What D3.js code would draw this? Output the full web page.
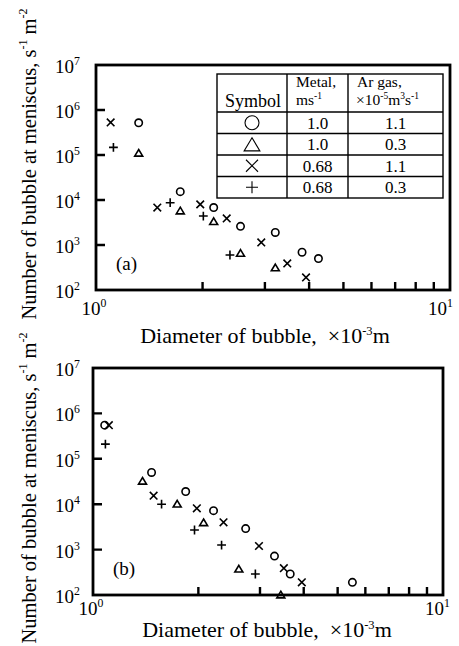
<!DOCTYPE html>
<html>
<head>
<meta charset="utf-8">
<script src="https://cdn.jsdelivr.net/npm/d3@7"></script>
<style>
body{margin:0;background:#fff}
text{font-family:"Liberation Serif","Times New Roman",serif;fill:#000}
</style>
</head>
<body>
<div id="root"></div>
<script>
//DATA, PANEL (a)  [diameter x10^-3 m, number s^-1 m^-2]
const aCircle = [[1.32,5.2e5],[1.73,1.53e4],[2.15,6.8e3],[2.56,2.6e3],[3.21,1.9e3],[3.82,690],[4.25,500]];
const aTriangle = [[1.32,1.09e5],[1.73,5.7e3],[2.15,3.3e3],[2.56,650],[3.21,310]];
const aCross = [[1.10,5.3e5],[1.49,6.8e3],[1.97,8.0e3],[2.34,3.9e3],[2.93,1.14e3],[3.47,390],[3.92,190]];
const aPlus = [[1.12,1.48e5],[1.62,8.7e3],[2.01,4.4e3],[2.39,600]];

//DATA, PANEL (b)
const bCircle = [[1.08,5.5e5],[1.47,5.0e4],[1.84,1.9e4],[2.21,7.2e3],[2.73,2.9e3],[3.30,720],[3.66,290],[5.51,190]];
const bTriangle = [[1.385,3.2e4],[1.74,1.0e4],[2.07,3.9e3],[2.61,370],[3.44,100]];
const bCross = [[1.11,5.5e5],[1.49,1.54e4],[1.98,8.1e3],[2.36,4.0e3],[2.98,1.2e3],[3.51,390],[3.95,190]];
const bPlus = [[1.085,2.1e5],[1.57,1.0e4],[1.95,2.7e3],[2.33,1.26e3],[2.91,290]];

//TICKS
const xMinorTicks = [2,3,4,5,6,7,8,9];
const yInnerTicks = [1e3,1e4,1e5,1e6];
const yLabelTicks = [1e2,1e3,1e4,1e5,1e6,1e7];

//LEGEND TABLE
const legendSymbols = ["circle","triangle","cross","plus"];
const legendMetal = ["1.0","1.0","0.68","0.68"];
const legendGas = ["1.1","0.3","1.1","0.3"];

const width = 459, height = 646;

let svg = d3.select('#root')
.append('svg')
.attr('width', width)
.attr('height', height);

//MARKER SHAPES
function markerPath(type, s) {
  if (type == "triangle") return `M0,${-s}L${s*1.05},${s*0.75}L${-s*1.05},${s*0.75}Z`;
  if (type == "cross") return `M${-s},${-s}L${s},${s}M${-s},${s}L${s},${-s}`;
  if (type == "plus") return `M${-s},0H${s}M0,${-s}V${s}`;
  return null;
}

function drawMarker(g, type, cx, cy, s, sw) {
  if (type == "circle") {
    g.append('circle').attr('cx', cx).attr('cy', cy).attr('r', s)
     .attr('fill', 'none').attr('stroke', '#000').attr('stroke-width', sw);
  } else {
    g.append('path').attr('d', markerPath(type, s))
     .attr('transform', `translate(${cx},${cy})`)
     .attr('fill', 'none').attr('stroke', '#000').attr('stroke-width', sw);
  }
}

// text like 10^n
function powerLabel(g, x, y, exp, anchor, size) {
  let t = g.append('text').attr('x', x).attr('y', y)
    .attr('text-anchor', anchor).style('font-size', size + 'px');
  t.append('tspan').text('10');
  t.append('tspan').attr('dy', -size*0.42).style('font-size', (size*0.62) + 'px').text(exp);
  return t;
}

function drawPanel(p) {
  let x = d3.scaleLog().domain([1, 10]).range([p.left, p.right]);
  let y = d3.scaleLog().domain([1e2, 1e7]).range([p.bottom, p.top]);
  let g = svg.append('g');

  //FRAME
  g.append('rect')
  .attr('x', p.left).attr('y', p.top)
  .attr('width', p.right - p.left).attr('height', p.bottom - p.top)
  .attr('fill', 'none').attr('stroke', '#000').attr('stroke-width', 2.8);

  //INWARD TICKS, one path per axis
  g.append('path')
  .attr('d', xMinorTicks.map(t => `M${x(t)},${p.bottom}V${p.bottom - 8}`).join(''))
  .attr('fill', 'none').attr('stroke', '#000').attr('stroke-width', 2.4);

  g.append('path')
  .attr('d', yInnerTicks.map(t => `M${p.left},${y(t)}H${p.left + 9}`).join(''))
  .attr('fill', 'none').attr('stroke', '#000').attr('stroke-width', 2.4);

  //Y TICK LABELS
  yLabelTicks.forEach(v => {
    powerLabel(g, 80, y(v) + 8, String(Math.round(Math.log10(v))), 'end', 19);
  });

  //X TICK LABELS
  powerLabel(g, x(1) - 2, p.bottom + p.xlabDy, '0', 'middle', 19);
  powerLabel(g, x(10) + p.x10Dx, p.bottom + p.xlabDy, '1', 'end', 19);

  //X TITLE
  let xt = g.append('text')
  .attr('x', p.xTitleX).attr('y', p.bottom + p.xTitleDy)
  .attr('text-anchor', 'middle').style('font-size', '22px');
  xt.append('tspan').text('Diameter of bubble,\u00a0\u00a0\u00d710');
  xt.append('tspan').attr('dy', -8).style('font-size', '12.5px').text('-3');
  xt.append('tspan').attr('dy', 8).text('m');

  //Y TITLE
  let yt = g.append('text')
  .attr('transform', `translate(36,${p.yTitleY}) rotate(-90)`)
  .attr('text-anchor', 'middle').style('font-size', '20.5px');
  yt.append('tspan').text('Number of bubble at meniscus, s');
  yt.append('tspan').attr('dy', -9).style('font-size', '12px').text('-1');
  yt.append('tspan').attr('dy', 9).text(' m');
  yt.append('tspan').attr('dy', -9).style('font-size', '12px').text('-2');

  //PANEL TAG
  g.append('text').attr('x', p.left + 20).attr('y', p.bottom - 20)
  .style('font-size', '19px').text(p.tag);

  //POINTS
  p.series.forEach(s => {
    s.data.forEach(d => drawMarker(g, s.type, x(d[0]), y(d[1]), s.type == "circle" ? 3.7 : (s.type == "plus" ? 4.4 : 3.8), 1.6));
  });
}

drawPanel({
  left: 96, right: 450, top: 65, bottom: 290,
  xlabDy: 25, x10Dx: 3, xTitleX: 265, xTitleDy: 53, yTitleY: 164, tag: '(a)',
  series: [
    {type: 'circle', data: aCircle},
    {type: 'triangle', data: aTriangle},
    {type: 'cross', data: aCross},
    {type: 'plus', data: aPlus}
  ]
});

drawPanel({
  left: 93, right: 443, top: 368, bottom: 595,
  xlabDy: 20, x10Dx: 7, xTitleX: 267, xTitleDy: 42, yTitleY: 488, tag: '(b)',
  series: [
    {type: 'circle', data: bCircle},
    {type: 'triangle', data: bTriangle},
    {type: 'cross', data: bCross},
    {type: 'plus', data: bPlus}
  ]
});

//LEGEND TABLE (panel a)
const colX = [217, 287, 348, 443];
const rowY = [74, 112, 133.5, 155, 176.5, 198];
let tb = svg.append('g');

tb.append('rect').attr('x', colX[0]).attr('y', rowY[0])
.attr('width', colX[3] - colX[0]).attr('height', rowY[5] - rowY[0])
.attr('fill', '#fff').attr('stroke', '#000').attr('stroke-width', 1.4);

colX.slice(1, 3).forEach(cx => {
  tb.append('line').attr('x1', cx).attr('x2', cx).attr('y1', rowY[0]).attr('y2', rowY[5])
  .attr('stroke', '#000').attr('stroke-width', 1.4);
});
rowY.slice(1, 5).forEach(ry => {
  tb.append('line').attr('x1', colX[0]).attr('x2', colX[3]).attr('y1', ry).attr('y2', ry)
  .attr('stroke', '#000').attr('stroke-width', 1.4);
});

tb.append('text').attr('x', (colX[0] + colX[1]) / 2 + 1).attr('y', 107)
.attr('text-anchor', 'middle').style('font-size', '18px').text('Symbol');

tb.append('text').attr('x', colX[1] + 9).attr('y', 87).style('font-size', '15.5px').text('Metal,');
let ms = tb.append('text').attr('x', colX[1] + 9).attr('y', 105).style('font-size', '15.5px');
ms.append('tspan').text('ms');
ms.append('tspan').attr('dy', -6).style('font-size', '9.5px').text('-1');

tb.append('text').attr('x', colX[2] + 9).attr('y', 87).style('font-size', '15.5px').text('Ar gas,');
let ag = tb.append('text').attr('x', colX[2] + 8).attr('y', 105).style('font-size', '15.5px');
ag.append('tspan').text('\u00d710');
ag.append('tspan').attr('dy', -6).style('font-size', '9.5px').text('-5');
ag.append('tspan').attr('dy', 6).text('m');
ag.append('tspan').attr('dy', -6).style('font-size', '9.5px').text('3');
ag.append('tspan').attr('dy', 6).text('s');
ag.append('tspan').attr('dy', -6).style('font-size', '9.5px').text('-1');

legendSymbols.forEach((s, i) => {
  let cy = (rowY[i + 1] + rowY[i + 2]) / 2;
  drawMarker(tb, s, (colX[0] + colX[1]) / 2, cy + (s == "triangle" ? 1 : 0), s == "circle" ? 7 : (s == "triangle" ? 7.5 : 6), 1.1);
  tb.append('text').attr('x', (colX[1] + colX[2]) / 2).attr('y', cy + 6)
  .attr('text-anchor', 'middle').style('font-size', '17px').text(legendMetal[i]);
  tb.append('text').attr('x', (colX[2] + colX[3]) / 2).attr('y', cy + 6)
  .attr('text-anchor', 'middle').style('font-size', '17px').text(legendGas[i]);
});
</script>
</body>
</html>
